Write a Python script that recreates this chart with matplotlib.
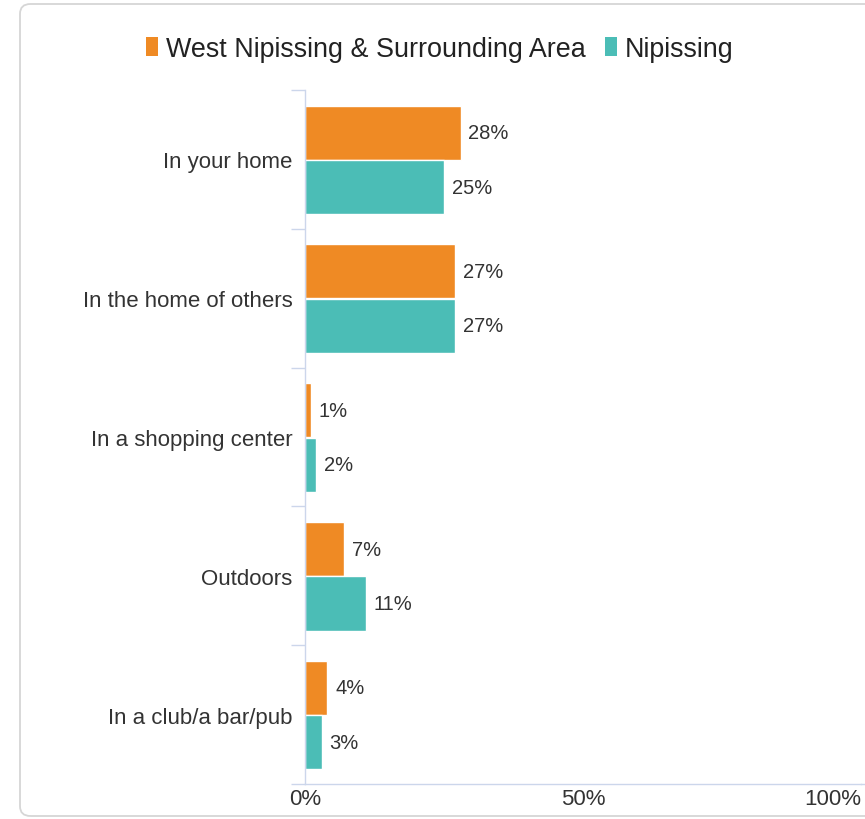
import numpy as np
import matplotlib
matplotlib.use("Agg")
import matplotlib.pyplot as plt
from matplotlib.patches import FancyBboxPatch
from matplotlib.lines import Line2D

# Data
categories = ["In your home", "In the home of others", "In a shopping center",
              "Outdoors", "In a club/a bar/pub"]
west_nipissing = [28, 27, 1, 7, 4]
nipissing = [25, 27, 2, 11, 3]
series_names = ["West Nipissing & Surrounding Area", "Nipissing"]
x_ticks = [0, 50, 100]

plt.rcParams['font.family'] = ['Liberation Sans', 'DejaVu Sans']
text_color = '#333333'
axis_color = '#ccd6eb'
orange = '#ef8a24'
teal = '#4bbdb6'

fig = plt.figure(figsize=(8.65, 8.2), dpi=100)

# Rounded frame around the chart (extends past the right edge)
frame = FancyBboxPatch((20 / 865, 1 - 817 / 820), 870 / 865, 812 / 820,
                       boxstyle="round,pad=0,rounding_size=0.012",
                       transform=fig.transFigure, facecolor='none',
                       edgecolor='#d6d6d6', linewidth=1.3, clip_on=False, zorder=-1)
fig.patches.append(frame)

ax = fig.add_axes([305 / 865, 1 - 785 / 820, 556 / 865, (785 - 91) / 820])
ax.patch.set_alpha(0)

y = np.arange(len(categories))
h = 0.39
b1 = ax.barh(y - 0.193, west_nipissing, height=h, color=orange,
             edgecolor='white', linewidth=1, label=series_names[0])
b2 = ax.barh(y + 0.2, nipissing, height=h, color=teal,
             edgecolor='white', linewidth=1, label=series_names[1])

# Value labels
for bars, vals in ((b1, west_nipissing), (b2, nipissing)):
    for rect, v in zip(bars, vals):
        ax.text(v + 1.4, rect.get_y() + rect.get_height() / 2, f"{v}%",
                va='center', ha='left', fontsize=14.5, color=text_color)

ax.set_xlim(0, 100)
ax.set_ylim(len(categories) - 0.5, -0.5)

ax.set_xticks(x_ticks)
ax.set_xticklabels([f"{t}%" for t in x_ticks])
ax.tick_params(axis='x', length=0, pad=3, labelsize=16, labelcolor=text_color)
# last label kept inside the chart, as in the original
ax.get_xticklabels()[-1].set_horizontalalignment('right')

ax.set_yticks(y)
ax.set_yticklabels(categories)
ax.tick_params(axis='y', which='major', length=0, pad=9, labelsize=16,
               labelcolor=text_color)
ax.set_yticks(np.arange(-0.5, len(categories)), minor=True)
ax.tick_params(axis='y', which='minor', length=10, width=1, color=axis_color)

for side in ('top', 'right'):
    ax.spines[side].set_visible(False)
for side in ('left', 'bottom'):
    ax.spines[side].set_color(axis_color)
    ax.spines[side].set_linewidth(1)

# x axis line runs on to the right edge of the picture
fig.lines.append(Line2D([861 / 865, 1.0], [1 - 785 / 820] * 2, color=axis_color,
                        linewidth=1, transform=fig.transFigure))

leg = fig.legend(handles=[b1, b2], labels=series_names, loc='center',
                 bbox_to_anchor=(440 / 865, 1 - 50 / 820), ncol=2, frameon=False,
                 fontsize=19.4, handlelength=0.45, handleheight=0.7,
                 handletextpad=0.3, columnspacing=0.7)
for t in leg.get_texts():
    t.set_color('#222222')
for p in leg.get_patches():
    p.set_edgecolor('none')

fig.savefig("out.png", dpi=100)
